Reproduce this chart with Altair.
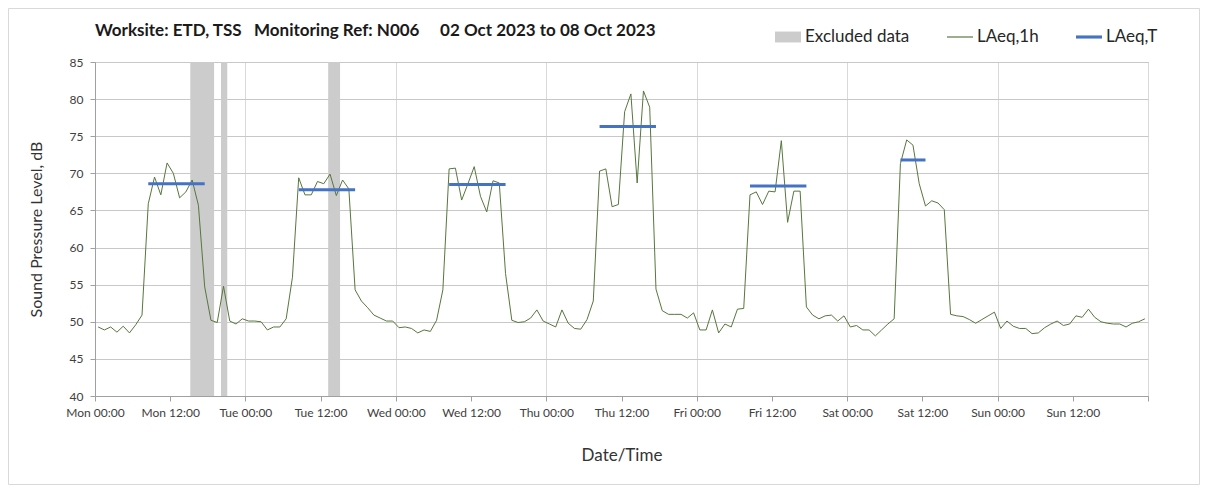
import altair as alt
import pandas as pd

# ---------------- data ----------------
laeq_1h = [
    49.3, 48.9, 49.3, 48.6, 49.4, 48.5, 49.6, 50.9, 65.9, 69.5, 67.1, 71.4,
    70.0, 66.7, 67.5, 69.1, 65.7, 54.7, 50.2, 49.9, 54.8, 50.1, 49.7, 50.4,
    50.1, 50.1, 50.0, 48.9, 49.3, 49.3, 50.4, 56.0, 69.4, 67.1, 67.1, 68.9,
    68.6, 69.9, 67.0, 69.1, 67.9, 54.3, 52.8, 51.9, 50.9, 50.5, 50.1, 50.1,
    49.2, 49.3, 49.1, 48.5, 48.9, 48.7, 50.2, 54.3, 70.6, 70.7, 66.4, 68.6,
    70.9, 66.9, 64.8, 69.0, 68.7, 56.5, 50.2, 49.9, 50.0, 50.5, 51.6, 50.1,
    49.7, 49.3, 51.6, 49.8, 49.1, 49.0, 50.3, 52.8, 70.3, 70.6, 65.5, 65.8,
    78.3, 80.7, 68.7, 81.1, 78.9, 54.4, 51.5, 51.0, 51.0, 51.0, 50.5, 51.2,
    48.9, 48.9, 51.6, 48.5, 49.7, 49.3, 51.7, 51.8, 67.1, 67.5, 65.8, 67.6,
    67.5, 74.4, 63.4, 67.6, 67.6, 52.0, 50.9, 50.4, 50.8, 50.9, 50.1, 50.8,
    49.3, 49.5, 48.9, 48.9, 48.1, 48.9, 49.7, 50.4, 71.3, 74.5, 73.8, 68.6,
    65.6, 66.3, 66.0, 65.1, 51.0, 50.8, 50.7, 50.3, 49.8, 50.3, 50.8, 51.3,
    49.1, 50.1, 49.4, 49.1, 49.1, 48.4, 48.5, 49.2, 49.7, 50.1, 49.5, 49.7,
    50.8, 50.6, 51.7, 50.6, 50.0, 49.8, 49.7, 49.7, 49.3, 49.8, 50.0, 50.4,
]
hour_mid = [h + 0.5 for h in range(len(laeq_1h))]

excl_start = [15.2, 20.1, 37.2]
excl_end = [19.0, 21.1, 39.1]

laeqT_start = [8.5, 32.5, 56.5, 80.5, 104.5, 128.5]
laeqT_end = [17.5, 41.5, 65.5, 89.5, 113.5, 132.5]
laeqT_level = [68.6, 67.8, 68.5, 76.3, 68.3, 71.8]

tick_hours = list(range(0, 169, 12))
tick_labels = ["Mon 00:00", "Mon 12:00", "Tue 00:00", "Tue 12:00",
               "Wed 00:00", "Wed 12:00", "Thu 00:00", "Thu 12:00",
               "Fri 00:00", "Fri 12:00", "Sat 00:00", "Sat 12:00",
               "Sun 00:00", "Sun 12:00", ""]
y_ticks = [40, 45, 50, 55, 60, 65, 70, 75, 80, 85]

legend_labels = ["Excluded data", "LAeq,1h", "LAeq,T"]
legend_colors = ["#cccccc", "#56773d", "#4472c4"]
legend_shapes = ["M-1,-0.42L1,-0.42L1,0.42L-1,0.42Z",
                 "M-1,-0.045L1,-0.045L1,0.045L-1,0.045Z",
                 "M-1,-0.12L1,-0.12L1,0.12L-1,0.12Z"]

title_text = ("Worksite: ETD, TSS\u00a0\u00a0\u00a0Monitoring Ref: N006"
              "\u00a0\u00a0\u00a0\u00a0\u00a002 Oct 2023 to 08 Oct 2023")

# ---------------- tables ----------------
line_df = pd.DataFrame({"t": hour_mid, "v": laeq_1h})
excl_df = pd.DataFrame({"s": excl_start, "e": excl_end})
lt_df = pd.DataFrame({"s": laeqT_start, "e": laeqT_end, "v": laeqT_level})
leg_df = pd.DataFrame({"k": legend_labels})

W, H = 1053, 334
PAD = {"left": 87, "top": 54, "right": 52, "bottom": 89}

label_js = "[" + ",".join("'" + s + "'" for s in tick_labels) + "]"

x_scale = alt.Scale(domain=[0, 168], nice=False, zero=False)
y_scale = alt.Scale(domain=[40, 85], nice=False, zero=False)

x_axis = alt.Axis(
    values=tick_hours,
    labelExpr=label_js + "[round(datum.value/12)]",
    title="Date/Time",
    titleFontSize=17, titleFontWeight="normal", titleColor="#333333",
    titlePadding=29,
    labelFontSize=12, labelColor="#404040", labelPadding=6,
    labelFlush=False, labelOverlap=False,
    tickSize=5, tickColor="#a0a0a0", domainColor="#a0a0a0",
    grid=True, gridColor="#d9d9d9", gridWidth=1,
    gridOpacity={"condition": {"test": "datum.value % 24 === 0", "value": 1}, "value": 0},
)
y_axis = alt.Axis(
    values=y_ticks,
    title="Sound Pressure Level, dB",
    titleFontSize=16, titleFontWeight="normal", titleColor="#333333",
    titlePadding=25,
    labelFontSize=12, labelColor="#404040", labelPadding=7,
    tickSize=5, tickColor="#a0a0a0", domainColor="#a0a0a0",
    grid=True, gridColor="#c8c8c8", gridWidth=1,
)

bands = alt.Chart(excl_df).mark_rect(color="#cccccc").encode(
    x=alt.X("s:Q", scale=x_scale, axis=x_axis),
    x2="e:Q",
    y=alt.datum(85, scale=y_scale, axis=y_axis),
    y2=alt.datum(40),
)

line = alt.Chart(line_df).mark_line(color="#56773d", strokeWidth=1).encode(
    x=alt.X("t:Q", scale=x_scale, axis=x_axis),
    y=alt.Y("v:Q", scale=y_scale, axis=y_axis),
)

rules = alt.Chart(lt_df).mark_rule(color="#4472c4", strokeWidth=3).encode(
    x=alt.X("s:Q", scale=x_scale, axis=x_axis),
    x2="e:Q",
    y=alt.Y("v:Q", scale=y_scale, axis=y_axis),
)

leg = alt.Legend(
    title=None, orient="none", direction="horizontal",
    legendX=680, legendY=-38,
    symbolSize=676, symbolStrokeWidth=0,
    labelFontSize=17, labelColor="#262626", labelOffset=4,
    columnPadding=37, padding=0, labelFont="Lato")

legend_layer = alt.Chart(leg_df).transform_filter("false").mark_point(
    filled=True, opacity=1
).encode(
    color=alt.Color("k:N", scale=alt.Scale(domain=legend_labels, range=legend_colors),
                    legend=leg),
    shape=alt.Shape("k:N", scale=alt.Scale(domain=legend_labels, range=legend_shapes),
                    legend=leg),
)

frame = alt.Chart(pd.DataFrame({"a": [0]})).mark_rect(
    fill=None, stroke="#d9d9d9", strokeWidth=1
).encode(
    x=alt.value(-PAD["left"] + 0.5), x2=alt.value(W + PAD["right"] - 0.5),
    y=alt.value(-PAD["top"] + 0.5), y2=alt.value(H + PAD["bottom"] - 0.5),
)

chart = alt.layer(frame, bands, line, rules, legend_layer).properties(
    width=W, height=H,
    autosize=alt.AutoSizeParams(type="none"),
    padding=PAD,
    title=alt.TitleParams(title_text, anchor="start", frame="group", fontSize=17,
                          fontWeight="bold", font="Lato", color="#1a1a1a", offset=-32),
).configure(font="Lato").configure_view(stroke="#a6a6a6", strokeWidth=1)

chart.save("out.html", embed_options={"renderer": "svg", "actions": False})
